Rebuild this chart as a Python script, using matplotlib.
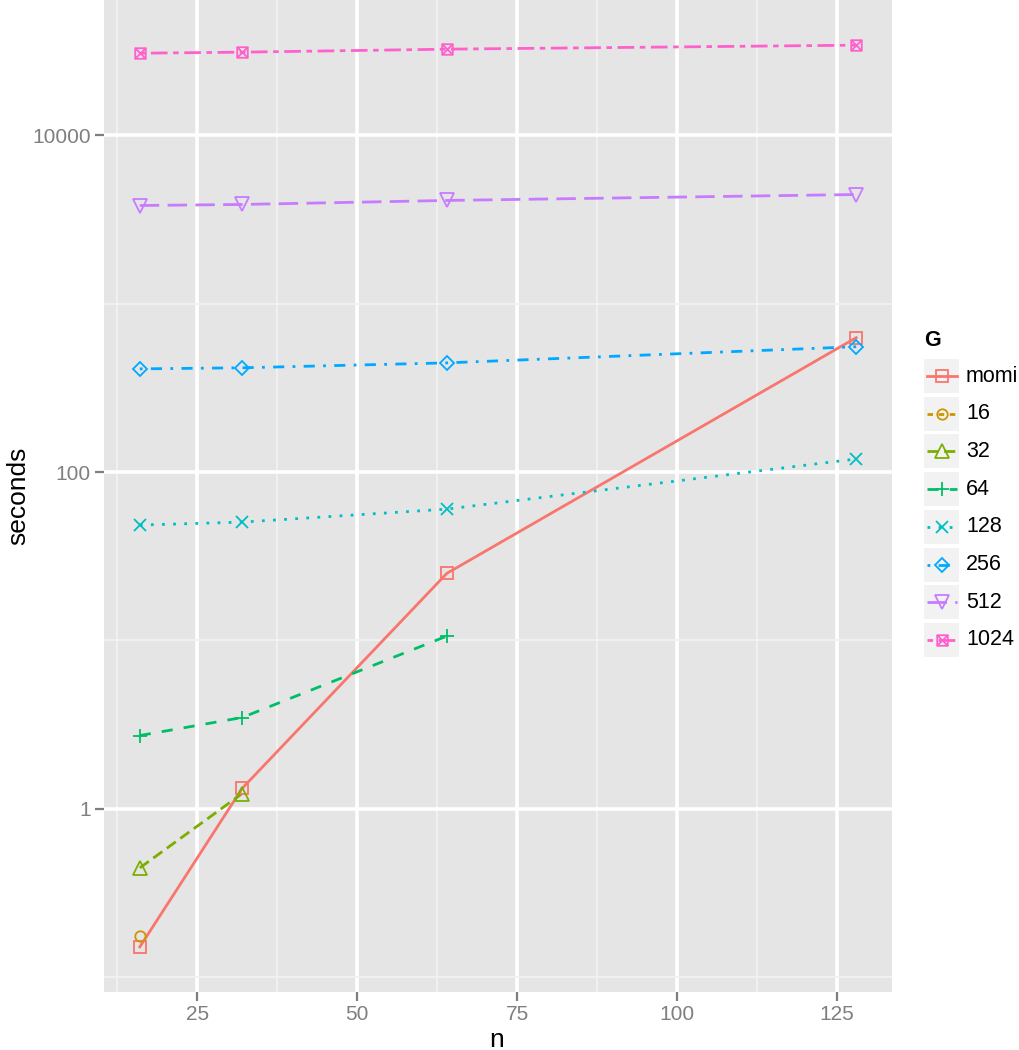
import numpy as np
import matplotlib
matplotlib.use("Agg")
import matplotlib.pyplot as plt
from matplotlib.path import Path
from matplotlib.patches import Rectangle

W, H = 1019, 1050
DPI = 100

# data (seconds, log axis)
n_vals = [16, 32, 64, 128]
groups = ["momi", "16", "32", "64", "128", "256", "512", "1024"]
momi_s = [0.151, 1.32, 25.0, 628]
g16_s = [0.175]
g32_s = [0.445, 1.23]
g64_s = [2.72, 3.48, 10.6]
g128_s = [48.4, 50.4, 60.2, 119.5]
g256_s = [410, 416, 445, 555]
g512_s = [3830, 3885, 4104, 4452]
g1024_s = [30760, 31200, 32500, 34330]
series = [momi_s, g16_s, g32_s, g64_s, g128_s, g256_s, g512_s, g1024_s]

x_ticks = [25, 50, 75, 100, 125]
y_ticks = [1, 100, 10000]
y_ticklabels = ["1", "100", "10000"]

# ggplot hue palette, linetypes and shapes 0..7
colors = ["#F8766D", "#CD9600", "#7CAE00", "#00BE67",
          "#00BFC4", "#00A9FF", "#C77CFF", "#FF61CC"]
dashes = [None, (2, 2), (4, 2), (4, 4), (1, 3), (1, 3, 4, 3), (7, 3), (2, 2, 6, 2)]

boxx = Path([(-1, -1), (1, -1), (1, 1), (-1, 1), (-1, -1),
             (-1, -1), (1, 1), (-1, 1), (1, -1)],
            [Path.MOVETO, Path.LINETO, Path.LINETO, Path.LINETO, Path.CLOSEPOLY,
             Path.MOVETO, Path.LINETO, Path.MOVETO, Path.LINETO])
markers = ["s", "o", "^", "+", "x", "D", "v", boxx]
msizes = [8, 7.5, 10, 10, 8, 6.8, 10, 7.6]
LW = 2.0
MEW = 1.3

plt.rcParams['font.family'] = ['Liberation Sans', 'DejaVu Sans']

fig = plt.figure(figsize=(W / DPI, H / DPI), dpi=DPI)
ax = fig.add_axes([104 / W, (H - 992) / H, (892 - 104) / W, 992 / H])
ax.set_facecolor("#E5E5E5")
for s in ax.spines.values():
    s.set_visible(False)

ax.set_yscale("log")
ax.set_xlim(10.4, 133.6)
ax.set_ylim(10 ** -1.089, 10 ** 4.804)
ax.set_xticks(x_ticks)
ax.set_xticks([12.5, 37.5, 62.5, 87.5, 112.5], minor=True)
ax.set_yticks(y_ticks)
ax.set_yticklabels(y_ticklabels)
ax.set_yticks([0.1, 10, 1000], minor=True)
ax.yaxis.set_minor_formatter(matplotlib.ticker.NullFormatter())
ax.grid(True, which="major", color="white", lw=2.6)
ax.grid(True, which="minor", color="#F2F2F2", lw=1.3)
ax.set_axisbelow(True)
ax.tick_params(which="major", length=6.5, width=1.6, color="#7F7F7F",
               labelcolor="#7F7F7F", labelsize=15)
ax.tick_params(axis="x", pad=3)
ax.tick_params(axis="y", pad=3)
ax.tick_params(which="minor", length=0)

for i, ys in enumerate(series):
    xs = n_vals[:len(ys)]
    ln, = ax.plot(xs, ys, color=colors[i], lw=LW, zorder=2)
    if dashes[i] is not None:
        ln.set_dashes(dashes[i])
for i, ys in enumerate(series):
    xs = n_vals[:len(ys)]
    ax.plot(xs, ys, ls="none", marker=markers[i], ms=msizes[i], mfc="none",
            mec=colors[i], mew=MEW, zorder=3)

fig.text(497 / W, 1 - 1040 / H, "n", fontsize=19, ha="center", va="center")
fig.text(18 / W, 1 - 496 / H, "seconds", fontsize=19, rotation=90,
         ha="center", va="center")

# legend, drawn in pixel coordinates
lg = fig.add_axes([0, 0, 1, 1], zorder=5)
lg.set_xlim(0, W)
lg.set_ylim(H, 0)
lg.axis("off")
lg.text(924, 341, "G", fontsize=15.5, fontweight="bold", ha="left", va="center")
for i, name in enumerate(groups):
    yc = 376 + i * 37.7
    lg.add_patch(Rectangle((924, yc - 17), 35, 34, facecolor="#F2F2F2",
                           edgecolor="none"))
    ln, = lg.plot([927, 957], [yc, yc], color=colors[i], lw=LW)
    if dashes[i] is not None:
        ln.set_dashes(dashes[i])
    lg.plot([942], [yc], ls="none", marker=markers[i], ms=msizes[i], mfc="none",
            mec=colors[i], mew=MEW)
    lg.text(966, yc, name, fontsize=15.5, ha="left", va="center")

fig.savefig("out.png", dpi=DPI)
